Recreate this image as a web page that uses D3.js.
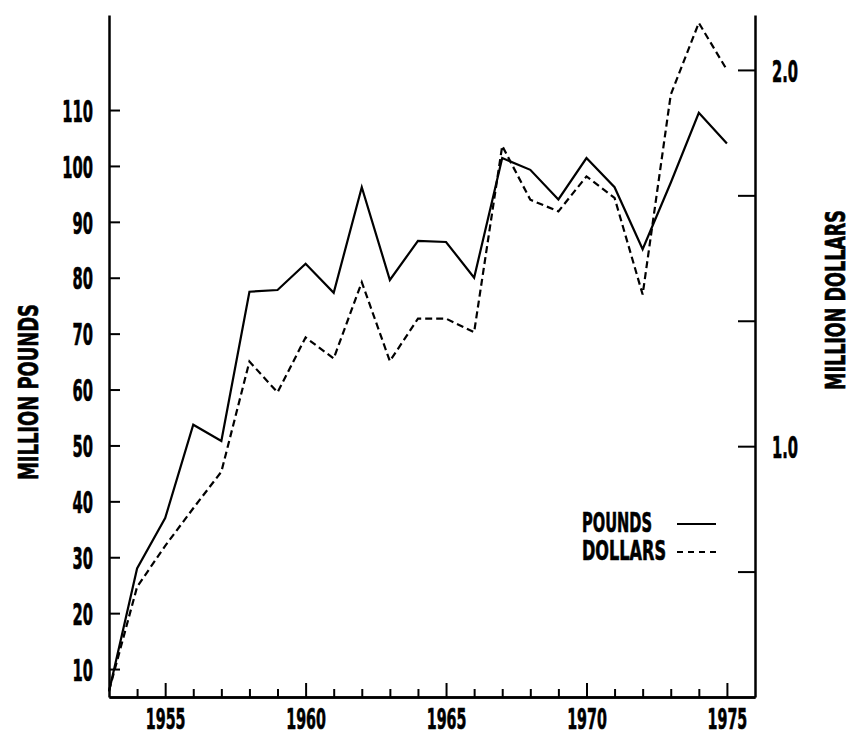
<!DOCTYPE html>
<html>
<head>
<meta charset="utf-8">
<script src="https://cdn.jsdelivr.net/npm/d3@7"></script>
<style>
  html, body { margin: 0; padding: 0; background: #fff; }
  svg { display: block; }
  text { font-family: "DejaVu Sans", sans-serif; font-weight: bold; fill: #000; stroke: #000; stroke-width: 0.7px; }
</style>
</head>
<body>
<svg id="chart" width="852" height="736"></svg>
<script>
// Years on the x axis
const years = d3.range(1953, 1976);

// Shipments in million pounds (left axis, solid line)
const pounds = [6, 28, 37, 53.7, 50.8, 77.5, 77.8, 82.5, 77.3, 96.2, 79.6, 86.6, 86.4, 80,
                101.4, 99.3, 94, 101.4, 96.2, 85.1, 97, 109.5, 104];

// Value in million dollars (right axis, dashed line)
const dollars = [0.35, 0.626, 0.735, 0.835, 0.932, 1.225, 1.143, 1.289, 1.233, 1.436, 1.226,
                 1.339, 1.339, 1.303, 1.798, 1.655, 1.624, 1.717, 1.66, 1.403, 1.934, 2.125, 2.0];

// Tick values and labels
const poundTicks = [10, 20, 30, 40, 50, 60, 70, 80, 90, 100, 110];
const dollarTicks = [2 / 3, 1, 4 / 3, 5 / 3, 2];
const dollarLabels = new Map([[1, "1.0"], [2, "2.0"]]);
const majorYears = [1955, 1960, 1965, 1970, 1975];
const minorYears = d3.range(1954, 1976).filter(y => y % 5 !== 0);

const legendItems = [
  { label: "POUNDS", dash: null },
  { label: "DOLLARS", dash: "6,5" }
];

const svg = d3.select("#chart");

const plotLeft = 109, plotRight = 755, plotBottom = 697, plotTop = 15;
const x = d3.scaleLinear().domain([1953, 1976]).range([plotLeft, plotRight]);
const yL = d3.scaleLinear().domain([5, 127]).range([plotBottom, plotTop]);
const yR = d3.scaleLinear().domain([1 / 3, 2.146]).range([plotBottom, plotTop]);

const SX = 0.475; // horizontal squeeze for the condensed lettering

function squeeze(sel, sx) {
  sel.each(function () {
    const t = d3.select(this);
    const xv = +t.attr("x") || 0;
    t.attr("x", xv / sx).attr("transform", `scale(${sx},1)`);
  });
}

// Left axis
const axL = svg.append("g")
  .attr("transform", `translate(${plotLeft},0)`)
  .call(d3.axisLeft(yL).tickValues(poundTicks).tickSizeInner(-11).tickSizeOuter(0).tickPadding(16));
axL.selectAll("text").style("font-size", "31px").attr("dy", "0.36em");
squeeze(axL.selectAll("text"), SX);

// Right axis
const axR = svg.append("g")
  .attr("transform", `translate(${plotRight},0)`)
  .call(d3.axisRight(yR).tickValues(dollarTicks).tickSizeInner(-17).tickSizeOuter(0).tickPadding(17)
    .tickFormat(d => dollarLabels.get(Math.round(d * 3) / 3) || ""));
axR.selectAll("text").style("font-size", "31px").attr("dy", "0.36em");
squeeze(axR.selectAll("text"), SX);

// Bottom axis: minor yearly ticks and labelled five-year ticks
svg.append("g")
  .attr("transform", `translate(0,${plotBottom})`)
  .call(d3.axisBottom(x).tickValues(minorYears).tickSizeInner(-8).tickSizeOuter(0).tickFormat(""));
const axB = svg.append("g")
  .attr("transform", `translate(0,${plotBottom})`)
  .call(d3.axisBottom(x).tickValues(majorYears).tickSizeInner(-14).tickSizeOuter(0).tickPadding(12)
    .tickFormat(d3.format("d")));
axB.selectAll("text").style("font-size", "28.5px");
squeeze(axB.selectAll("text"), 0.5);

svg.selectAll(".domain").attr("stroke-width", 2.5);
svg.selectAll(".tick line").attr("stroke-width", 2);

// Axis titles
svg.append("text")
  .attr("transform", "translate(38,392) rotate(-90)")
  .attr("text-anchor", "middle")
  .attr("textLength", 176).attr("lengthAdjust", "spacingAndGlyphs")
  .style("font-size", "27px")
  .text("MILLION POUNDS");
svg.append("text")
  .attr("transform", "translate(845,300) rotate(-90)")
  .attr("text-anchor", "middle")
  .attr("textLength", 180).attr("lengthAdjust", "spacingAndGlyphs")
  .style("font-size", "26px")
  .text("MILLION DOLLARS");

// Series lines
const linePounds = d3.line().x((d, i) => x(years[i])).y(d => yL(d));
const lineDollars = d3.line().x((d, i) => x(years[i])).y(d => yR(d));

svg.append("path").datum(pounds)
  .attr("d", linePounds)
  .attr("fill", "none").attr("stroke", "#000").attr("stroke-width", 2.2)
  .attr("stroke-linejoin", "miter");
svg.append("path").datum(dollars)
  .attr("d", lineDollars)
  .attr("fill", "none").attr("stroke", "#000").attr("stroke-width", 2.2)
  .attr("stroke-dasharray", "7,4");

// Legend
const lg = svg.append("g").attr("transform", "translate(582,532)");
legendItems.forEach((it, i) => {
  const g = lg.append("g").attr("transform", `translate(0,${i * 28})`);
  g.append("text")
    .attr("x", 0).attr("y", 0)
    .attr("textLength", it.label === "POUNDS" ? 70 : 84).attr("lengthAdjust", "spacingAndGlyphs")
    .style("font-size", "27px")
    .text(it.label);
  g.append("line")
    .attr("x1", 95).attr("x2", 134).attr("y1", -8).attr("y2", -8)
    .attr("stroke", "#000").attr("stroke-width", 2)
    .attr("stroke-dasharray", it.dash);
});
</script>
</body>
</html>
